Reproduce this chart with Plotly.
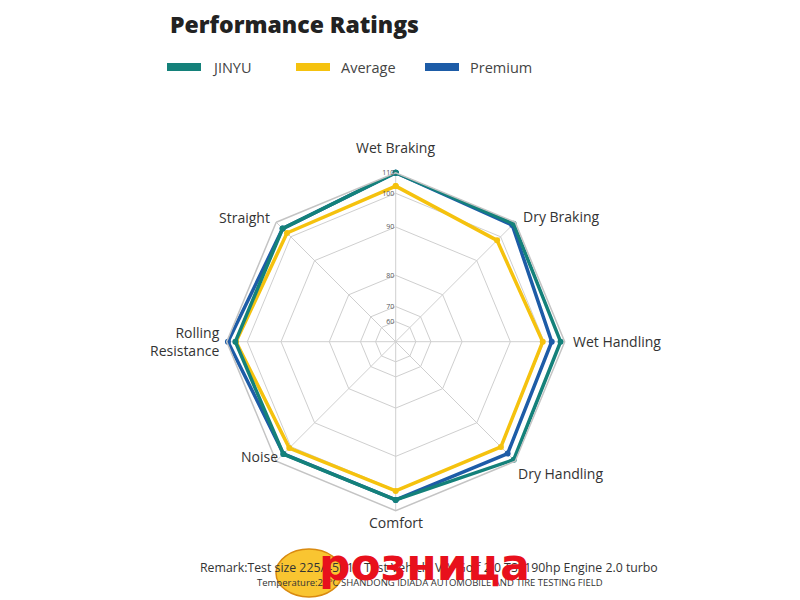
import numpy as np
import plotly.graph_objects as go

# axes, clockwise from top
categories = ["Wet Braking", "Dry Braking", "Wet Handling", "Dry Handling",
              "Comfort", "Noise", "Rolling Resistance", "Straight"]
axis_labels = ["Wet Braking", "Dry Braking", "Wet Handling", "Dry Handling",
               "Comfort", "Noise", "Rolling<br>Resistance", "Straight"]

jinyu = [110, 108.9, 108, 109, 104.8, 105.1, 105.8, 105.6]
average = [103.5, 98.5, 99.6, 100.2, 100.4, 101, 105.5, 102.6]
premium = [110, 108, 103.7, 104.8, 104.8, 105, 109.4, 105.6]

tick_values = [60, 70, 80, 90, 100, 110]
tick_labels = ["60", "70", "80", "90", "100", "110"]

# the rings in the original are not evenly spaced, so values are placed
# on the radius piecewise between the rings
ring_value = [50] + tick_values
ring_pos = [0, 20, 35, 66, 114, 147.5, 168]


def to_r(vals):
    return list(np.interp(vals, ring_value, ring_pos))


def closed(v):
    return list(v) + [v[0]]


theta = closed(categories)

series = [
    ("Average", average, "#f5c20e"),
    ("Premium", premium, "#1d5ca7"),
    ("JINYU", jinyu, "#14817a"),
]
legend_order = ["JINYU", "Average", "Premium"]
colors = {n: c for n, _, c in series}

W, H = 800, 600
OFF = 8  # page body margin
cx, cy, rad = 395.7 - OFF, 341.7 - OFF, 169


def px(x):
    return (x - OFF) / W


def py(y):
    return 1 - (y - OFF) / H


fig = go.Figure()
for name, vals, col in series:
    fig.add_trace(go.Scatterpolar(
        r=closed(to_r(vals)), theta=theta, name=name, showlegend=False,
        mode="lines+markers",
        line=dict(color=col, width=3.5),
        marker=dict(color=col, size=6),
        hoverinfo="skip",
    ))

fig.update_layout(
    width=W, height=H,
    margin=dict(l=0, r=0, t=0, b=0),
    paper_bgcolor="white",
    font=dict(family="Open Sans", color="#333333"),
    showlegend=False,
    polar=dict(
        domain=dict(x=[(cx - rad) / W, (cx + rad) / W],
                    y=[(H - cy - rad) / H, (H - cy + rad) / H]),
        bgcolor="white",
        gridshape="linear",
        angularaxis=dict(
            direction="clockwise", rotation=90,
            gridcolor="#cfcfcf", gridwidth=1,
            linecolor="#c4c4c4", linewidth=1.5, showline=True,
            ticks="", showticklabels=False,
        ),
        radialaxis=dict(
            range=[0, 168], angle=90, tickangle=90, side="counterclockwise",
            tickvals=ring_pos[1:], ticktext=tick_labels,
            gridcolor="#cfcfcf", gridwidth=1,
            showline=False, ticks="",
            tickfont=dict(size=7, color="#555555"),
        ),
    ),
)

# axis names just outside the outer ring
label_r = [183, 177, 175, 170, 169, 163, 174, 175]
anchors = [("center", "bottom"), ("left", "middle"), ("left", "middle"),
           ("left", "top"), ("center", "top"), ("right", "middle"),
           ("right", "middle"), ("right", "middle")]
for i, (lab, lr, (xa, ya)) in enumerate(zip(axis_labels, label_r, anchors)):
    a = np.radians(45 * i)
    sx = 395.7 + lr * np.sin(a)
    sy = 341.7 - lr * np.cos(a)
    fig.add_annotation(text=lab, x=px(sx), y=py(sy), xref="paper",
                       yref="paper", xanchor=xa, yanchor=ya, align="right",
                       showarrow=False, font=dict(size=14, color="#333333"))

# legend: coloured bars with names
for i, name in enumerate(legend_order):
    x0 = 167 + 129 * i
    fig.add_shape(type="rect", xref="paper", yref="paper",
                  x0=px(x0), x1=px(x0 + 34), y0=py(71), y1=py(63),
                  fillcolor=colors[name], line=dict(width=0))
    fig.add_annotation(text=name, x=px(x0 + 43), y=py(67),
                       xref="paper", yref="paper", xanchor="left",
                       yanchor="middle", showarrow=False,
                       font=dict(size=14.5, color="#444444"))

fig.add_annotation(
    text="Performance Ratings", x=px(168), y=py(24),
    xref="paper", yref="paper", xanchor="left", yanchor="middle",
    showarrow=False,
    font=dict(size=23, color="#222222", family="Open Sans", weight=800),
)

fig.add_annotation(
    text="Remark:Test size 225/45R17 Test Vehicle VW Golf 2.0 TSI 190hp Engine 2.0 turbo",
    x=px(429), y=py(578), xref="paper", yref="paper",
    showarrow=False, font=dict(size=12.3, color="#333333"),
)
fig.add_annotation(
    text="Temperature:21°C SHANDONG IDIADA AUTOMOBILE AND TIRE TESTING FIELD",
    x=px(430), y=py(591), xref="paper", yref="paper",
    showarrow=False, font=dict(size=9.5, color="#333333"),
)

# watermark over the remark
fig.add_annotation(
    text="розница", x=px(424), y=py(592), xref="paper", yref="paper",
    showarrow=False,
    font=dict(size=44, color="#e8101c", family="DejaVu Sans", weight="bold"),
)
fig.add_shape(type="circle", xref="paper", yref="paper", layer="above",
              x0=px(276), x1=px(342), y0=py(597), y1=py(549),
              fillcolor="#f9c531", line=dict(color="#d98a10", width=1.5))

fig.write_html("out.html")
